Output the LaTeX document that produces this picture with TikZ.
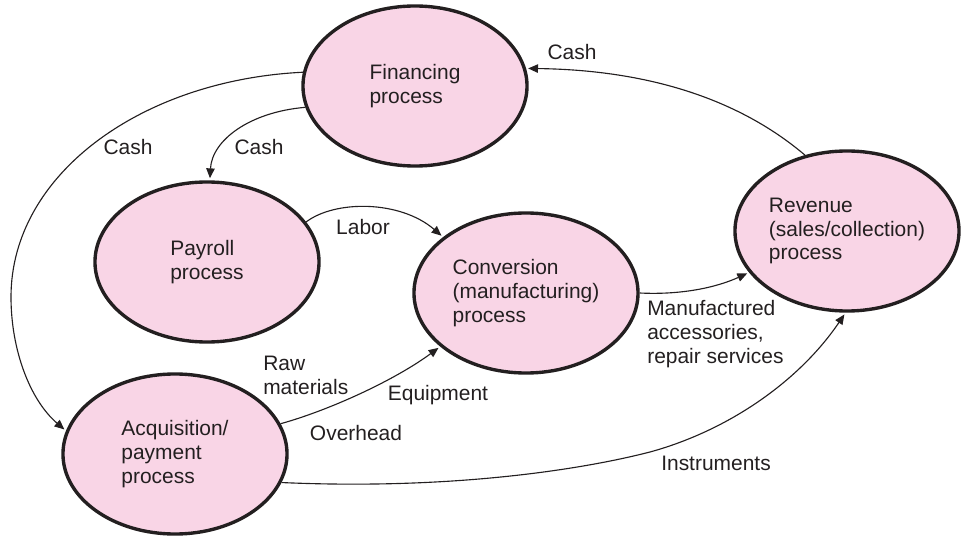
\documentclass[tikz,border=0pt]{standalone}
\usepackage{fontspec}
\setmainfont{Liberation Sans}
\usetikzlibrary{shapes.geometric,arrows.meta}
\definecolor{procpink}{RGB}{249,213,230}
\definecolor{inkgray}{RGB}{35,31,32}

\begin{document}
\begin{tikzpicture}[x=0.025cm,y=-0.025cm,
    process_node/.style={ellipse,draw=inkgray,line width=2.4pt,fill=procpink,minimum width=5.6cm,minimum height=4cm,inner sep=0pt,align=left,text=inkgray,font=\fontsize{14.9}{17}\selectfont},
    flow_edge/.style={inkgray,line width=0.8pt,-{Triangle[length=7pt,width=6pt]},shorten >=1.5pt},
    flow_label/.style={text=inkgray,font=\fontsize{14.9}{17}\selectfont,align=left,inner sep=0pt}]
  \useasboundingbox (0,0) rectangle (961,538);
\node[process_node] (fin) at (415,86) {Financing\\process};
\node[process_node] (pay) at (207,262) {Payroll\\process};
\node[process_node] (acq) at (175,454) {Acquisition/\\payment\\process};
\node[process_node] (conv) at (526,293) {Conversion\\(manufacturing)\\process};
\node[process_node] (rev) at (847,231) {Revenue\\(sales/collection)\\process};
\coordinate (cash_bend) at (11,297);
\coordinate (instr_bend) at (650,452);
\node[flow_label] (cash_acq) at (128,147) {Cash};
\node[flow_label] (cash_pay) at (259,147) {Cash};
\node[flow_label] (labor) at (363,227) {Labor};
\node[flow_label,anchor=west] (raw) at (263,375) {Raw\\materials};
\node[flow_label] (equip) at (438,395) {Equipment};
\node[flow_label] (overhead) at (356,433) {Overhead};
\node[flow_label,anchor=west] (mfg) at (647,334) {Manufactured\\accessories,\\repair services};
\node[flow_label] (instr) at (716,463) {Instruments};
\node[flow_label] (cash_fin) at (572,52) {Cash};
\draw[flow_edge] (fin.173) .. controls (142,80) and (11,174) .. (cash_bend) .. controls (11,350) and (30,400) .. (acq.168);
\draw[flow_edge] (fin.191) .. controls (250,112) and (212,140) .. (pay.88);
\draw[flow_edge] (pay.22) .. controls (335,200) and (400,200) .. (conv.146);
\draw[flow_edge] (acq.16) .. controls (330,410) and (395,380) .. (conv.212);
\draw[flow_edge] (conv.0) .. controls (680,295) and (715,288) .. (rev.203);
\draw[flow_edge] (acq.345) .. controls (450,490) and (580,470) .. (instr_bend) .. controls (730,430) and (800,380) .. (rev.269);
\draw[flow_edge] (rev.119) .. controls (740,100) and (650,70) .. (fin.9);
\end{tikzpicture}
\end{document}
